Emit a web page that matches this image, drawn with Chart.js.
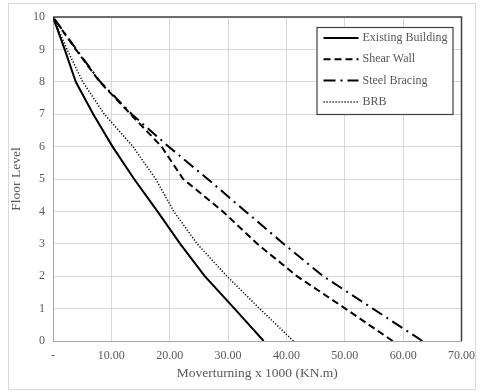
<!DOCTYPE html>
<html>
<head>
<meta charset="utf-8">
<script src="https://cdn.jsdelivr.net/npm/chart.js@4.4.0/dist/chart.umd.min.js"></script>
<style>
  html, body { margin: 0; padding: 0; background: #fff; }
  #wrap { position: relative; width: 483px; height: 392px; }
</style>
</head>
<body>
<div id="wrap"><canvas id="myChart" width="483" height="392"></canvas></div>
<script>
'use strict'

// floor levels 0..10
const floors = [0, 1, 2, 3, 4, 5, 6, 7, 8, 9, 10];
// overturning moment x 1000 (KN.m), one value per floor
const existingBuilding = [36.1, 31.1, 26.0, 21.8, 17.9, 13.9, 10.2, 6.9, 3.9, 2.0, 0];
const shearWall = [58.2, 50.1, 41.8, 35.0, 29.1, 22.3, 18.6, 13.3, 8.0, 3.9, 0];
const steelBracing = [63.3, 54.8, 46.3, 39.5, 33.0, 26.5, 19.8, 13.5, 8.1, 4.0, 0];
const brb = [41.2, 35.4, 29.8, 24.7, 20.7, 17.6, 13.7, 8.8, 5.1, 2.4, 0];

const seriesNames = ['Existing Building', 'Shear Wall', 'Steel Bracing', 'BRB'];
const xTicks = [0, 10, 20, 30, 40, 50, 60, 70];
const yTicks = [0, 1, 2, 3, 4, 5, 6, 7, 8, 9, 10];

const serif = "'Liberation Serif', 'Times New Roman', serif";

function points(values) {
  let out = [];
  for (let i = 0; i < floors.length; i++) {
    out.push({ x: values[i], y: floors[i] });
  }
  return out;
}

function lineSet(name, values, width, dash) {
  return {
    label: name,
    data: points(values),
    showLine: true,
    borderColor: '#000',
    backgroundColor: '#000',
    borderWidth: width,
    borderDash: dash,
    pointRadius: 0,
    tension: 0
  };
}

// outer frame of the chart + dark top/right edge of the plot
const frame = {
  id: 'frame',
  beforeDraw(chart) {
    let ctx = chart.ctx;
    ctx.save();
    ctx.strokeStyle = '#d9d9d9';
    ctx.lineWidth = 1;
    ctx.strokeRect(8.5, 3.5, 467, 386);
    ctx.restore();
  },
  afterDatasetsDraw(chart) {
    let a = chart.chartArea;
    let ctx = chart.ctx;
    ctx.save();
    ctx.strokeStyle = '#404040';
    ctx.lineWidth = 1.5;
    ctx.beginPath();
    ctx.moveTo(a.left, a.top);
    ctx.lineTo(a.right, a.top);
    ctx.lineTo(a.right, a.bottom);
    ctx.stroke();
    ctx.restore();
  }
};

// legend drawn inside the plot area, top right
const boxLegend = {
  id: 'boxLegend',
  afterDraw(chart) {
    let a = chart.chartArea;
    let ctx = chart.ctx;
    let w = 136, h = 87;
    let left = a.right - 9 - w;
    let top = a.top + 10;
    ctx.save();
    ctx.fillStyle = '#fff';
    ctx.fillRect(left, top, w, h);
    ctx.strokeStyle = '#404040';
    ctx.lineWidth = 1.2;
    ctx.strokeRect(left + 0.5, top + 0.5, w, h);
    ctx.font = '12px ' + serif;
    ctx.textBaseline = 'middle';
    chart.data.datasets.forEach(function (ds, i) {
      let y = top + 11 + i * 21.3;
      ctx.strokeStyle = ds.borderColor;
      ctx.lineWidth = ds.borderWidth;
      ctx.setLineDash(ds.borderDash);
      ctx.beginPath();
      ctx.moveTo(left + 7, y);
      ctx.lineTo(left + 42, y);
      ctx.stroke();
      ctx.setLineDash([]);
      ctx.fillStyle = '#595959';
      ctx.fillText(ds.label, left + 46, y);
    });
    ctx.restore();
  }
};

let ctx = document.getElementById('myChart').getContext('2d');

// eslint-disable-next-line no-unused-vars
let chart = new Chart(ctx, {
  type: 'scatter',
  data: {
    datasets: [
      lineSet(seriesNames[0], existingBuilding, 2, []),
      lineSet(seriesNames[1], shearWall, 2, [7, 4]),
      lineSet(seriesNames[2], steelBracing, 2, [12, 5, 2, 5]),
      lineSet(seriesNames[3], brb, 1.5, [1.2, 1.8])
    ]
  },
  options: {
    responsive: false,
    animation: false,
    layout: { padding: { top: 17, right: 19, left: 0, bottom: 0 } },
    plugins: {
      legend: { display: false },
      tooltip: { enabled: false }
    },
    scales: {
      x: {
        type: 'linear',
        min: 0,
        max: 70,
        afterBuildTicks(scale) {
          scale.ticks = xTicks.map(v => ({ value: v }));
        },
        afterFit(scale) { scale.height = 51; },
        grid: { color: '#d9d9d9', lineWidth: 1, drawTicks: false },
        border: { color: '#a6a6a6', width: 1 },
        ticks: {
          color: '#595959',
          padding: 8,
          maxRotation: 0,
          font: { family: serif, size: 12 },
          callback: v => v === 0 ? '-' : v.toFixed(2)
        },
        title: {
          display: true,
          text: 'Moverturning x 1000 (KN.m)',
          color: '#595959',
          font: { family: serif, size: 13.5 },
          padding: { top: 0, bottom: 10 }
        }
      },
      y: {
        type: 'linear',
        min: 0,
        max: 10,
        afterBuildTicks(scale) {
          scale.ticks = yTicks.map(v => ({ value: v }));
        },
        afterFit(scale) { scale.width = 53; },
        grid: { color: '#d9d9d9', lineWidth: 1, drawTicks: false },
        border: { color: '#a6a6a6', width: 1 },
        ticks: {
          color: '#595959',
          padding: 8,
          font: { family: serif, size: 12 }
        },
        title: {
          display: true,
          text: 'Floor Level',
          color: '#595959',
          font: { family: serif, size: 13.5 },
          padding: { top: 8, bottom: 0 }
        }
      }
    }
  },
  plugins: [frame, boxLegend]
});
</script>
</body>
</html>
